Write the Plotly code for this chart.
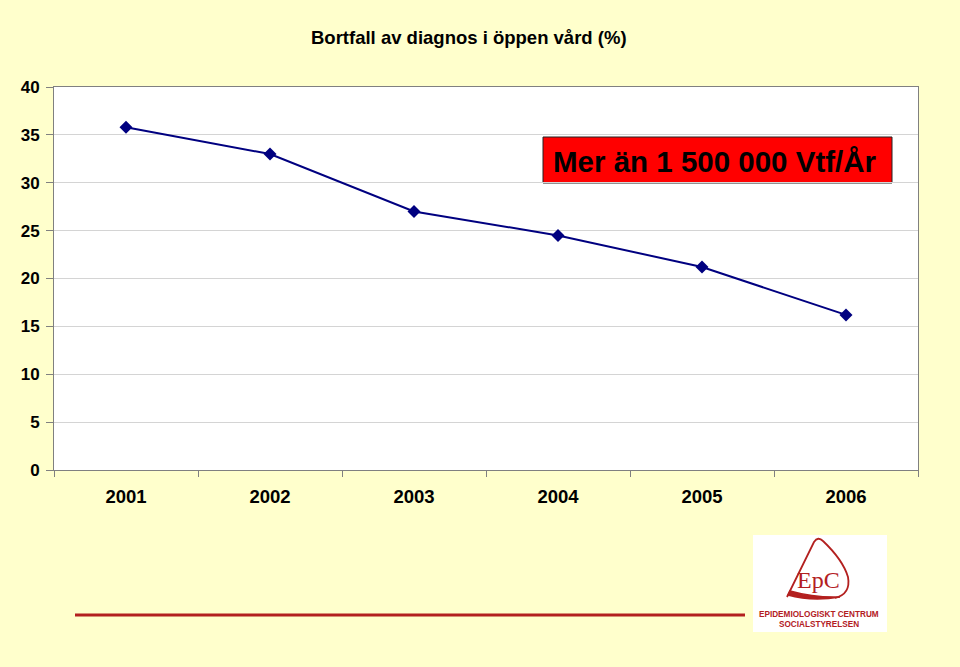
import plotly.graph_objects as go

years = ["2001", "2002", "2003", "2004", "2005", "2006"]
bortfall = [35.8, 33.0, 27.0, 24.5, 21.2, 16.2]
y_ticks = [0, 5, 10, 15, 20, 25, 30, 35, 40]

W, H = 960, 667
L, R, T, B = 54, 42, 87, 197
PW = W - L - R
PH = H - T - B


def px(x):
    return (x - L) / PW


def py(y):
    return (H - B - y) / PH


FONT = "Liberation Sans, Arial, sans-serif"
DARKRED = "#B3201F"

fig = go.Figure()
fig.add_trace(go.Scatter(
    x=years, y=bortfall, mode="lines+markers",
    line=dict(color="#000080", width=2),
    marker=dict(symbol="diamond", size=10, color="#000080"),
    showlegend=False, hoverinfo="x+y",
))

fig.update_layout(
    width=W, height=H,
    margin=dict(l=L, r=R, t=T, b=B),
    paper_bgcolor="#FFFFCC",
    plot_bgcolor="white",
    font=dict(family=FONT, color="black"),
    xaxis=dict(
        type="category", range=[-0.5, 5.5],
        tickson="boundaries", ticks="outside", ticklen=6, tickcolor="#808080",
        showgrid=False, showline=True, linecolor="#808080", linewidth=1, mirror=True,
        tickfont=dict(size=18.5, family=FONT), ticklabelstandoff=10,
        tickprefix="<b>", ticksuffix="</b>",
    ),
    yaxis=dict(
        range=[0, 40], tickvals=y_ticks, ticktext=[f"<b>{v}</b>" for v in y_ticks],
        ticks="outside", ticklen=7, tickcolor="#808080",
        showgrid=True, gridcolor="#D4D4D4", gridwidth=1,
        showline=True, linecolor="#808080", linewidth=1, mirror=True,
        zeroline=False, tickfont=dict(size=17, family=FONT), ticklabelstandoff=3,
    ),
)

annotations = [
    dict(text="<b>Bortfall av diagnos i öppen vård (%)</b>", xref="paper", yref="paper",
         x=px(468.5), y=py(38), xanchor="center", yanchor="middle", showarrow=False,
         font=dict(size=18.5, family=FONT, color="black")),
    dict(text="<b>Mer än 1 500 000 Vtf/År</b>", xref="paper", yref="paper",
         x=px(715), y=py(161), xanchor="center", yanchor="middle", showarrow=False,
         font=dict(size=29.5, family=FONT, color="black")),
    dict(text="EpC", xref="paper", yref="paper",
         x=px(818), y=py(580), xanchor="center", yanchor="middle", showarrow=False,
         font=dict(size=24, family="Liberation Serif, Times New Roman, serif", color=DARKRED)),
    dict(text="<b>EPIDEMIOLOGISKT CENTRUM</b>", xref="paper", yref="paper",
         x=px(819), y=py(614), xanchor="center", yanchor="middle", showarrow=False,
         font=dict(size=8.2, family=FONT, color=DARKRED)),
    dict(text="<b>SOCIALSTYRELSEN</b>", xref="paper", yref="paper",
         x=px(819), y=py(624), xanchor="center", yanchor="middle", showarrow=False,
         font=dict(size=8.2, family=FONT, color=DARKRED)),
]
fig.update_layout(annotations=annotations)

shapes = [
    # red text box
    dict(type="rect", xref="paper", yref="paper",
         x0=px(543), x1=px(892), y0=py(137), y1=py(183),
         fillcolor="#FF0000", line=dict(color="#222222", width=1), layer="below"),
    # red horizontal rule
    dict(type="line", xref="paper", yref="paper",
         x0=px(75), x1=px(745), y0=py(615), y1=py(615),
         line=dict(color=DARKRED, width=3)),
    # logo white box
    dict(type="rect", xref="paper", yref="paper",
         x0=px(753), x1=px(887), y0=py(535), y1=py(632),
         fillcolor="white", line=dict(width=0), layer="below"),
]


def pth(points, close=False):
    s = ""
    for cmd, coords in points:
        s += cmd + " " + " ".join(f"{px(coords[i]):.5f},{py(coords[i+1]):.5f}" for i in range(0, len(coords), 2)) + " "
    if close:
        s += "Z"
    return s.strip()


# rounded-triangle outline
logo_outline = pth([
    ("M", (787, 597)),
    ("L", (814, 542)),
    ("Q", (818, 536, 823, 541)),
    ("Q", (843, 560, 848, 577)),
    ("Q", (851, 594, 835, 598)),
])
shapes.append(dict(type="path", xref="paper", yref="paper", path=logo_outline,
                   line=dict(color=DARKRED, width=1.8), fillcolor="rgba(0,0,0,0)"))
# thick bottom swoosh
logo_swoosh = pth([
    ("M", (788, 595)),
    ("Q", (812, 602, 840, 597)),
    ("Q", (815, 598, 790, 591)),
], close=True)
shapes.append(dict(type="path", xref="paper", yref="paper", path=logo_swoosh,
                   line=dict(color=DARKRED, width=1.5), fillcolor=DARKRED))

fig.update_layout(shapes=shapes)

fig.write_html("out.html")
